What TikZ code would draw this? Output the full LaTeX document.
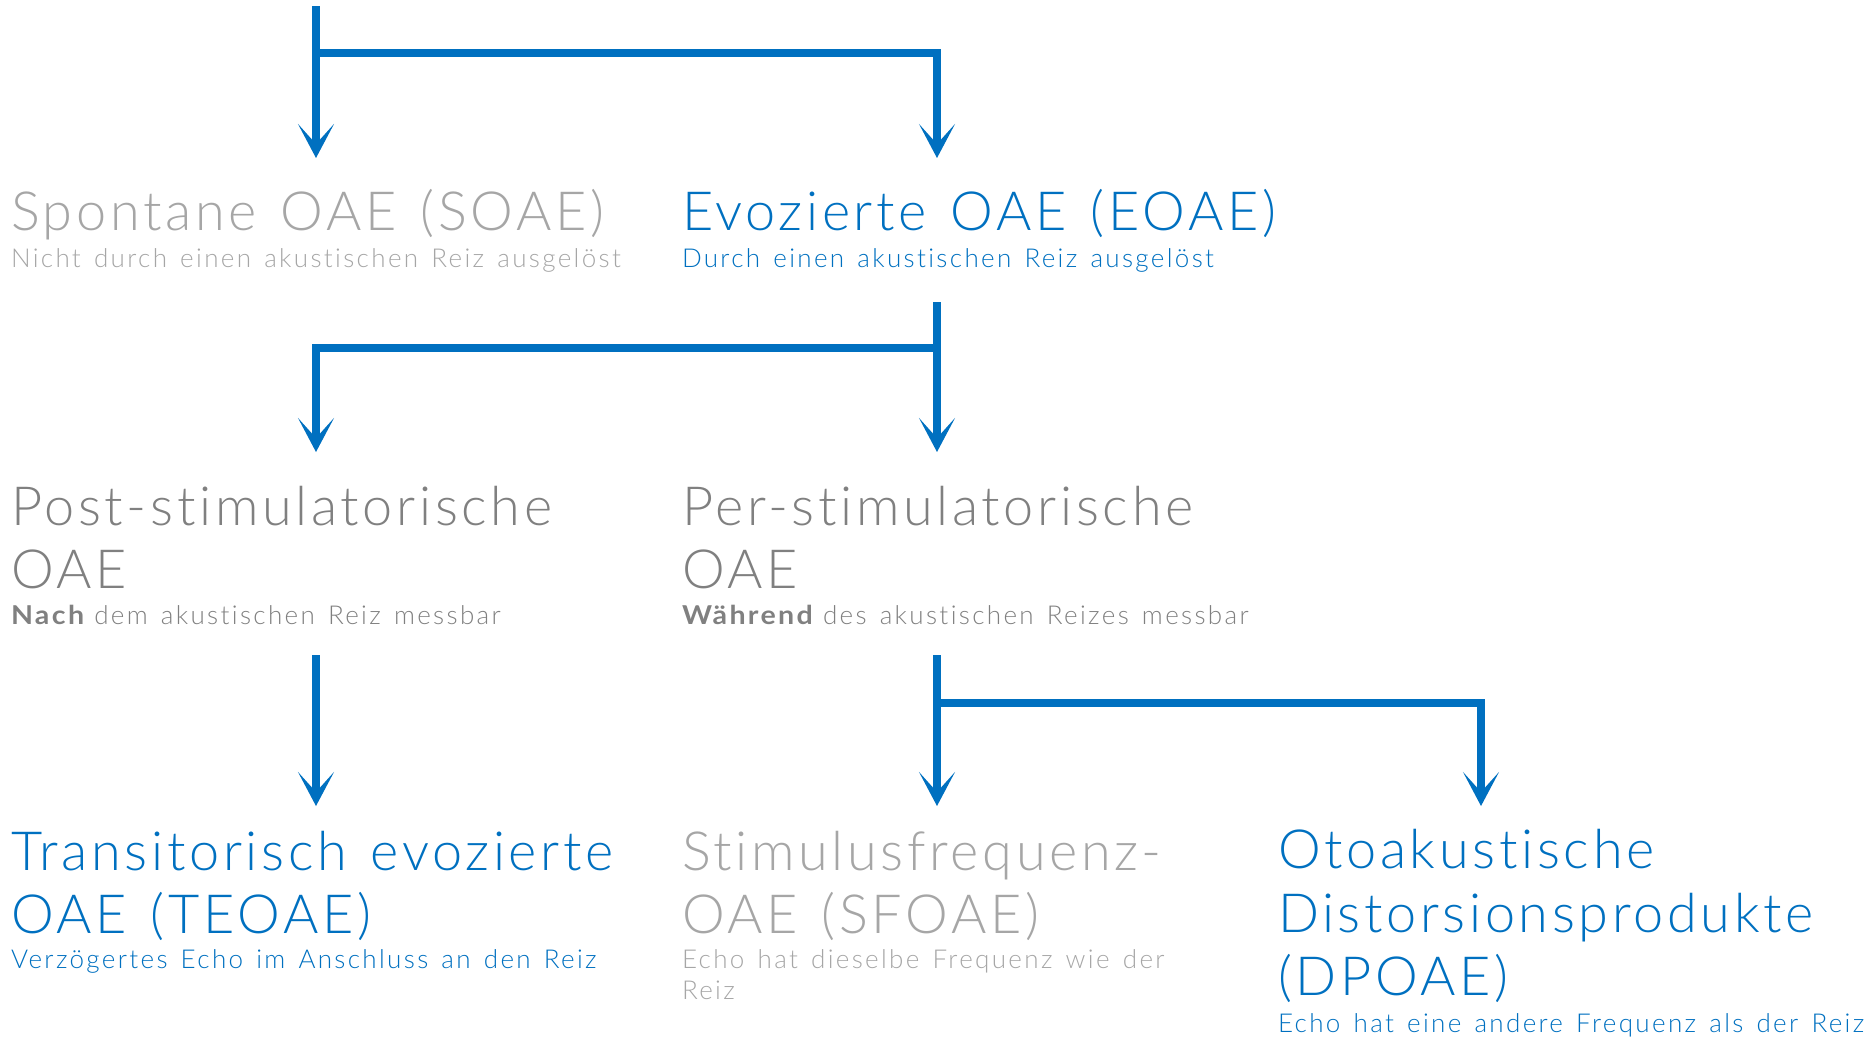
\documentclass[tikz,border=0pt]{standalone}
\usepackage{fontspec}
\setmainfont{Lato}[UprightFont=* Light, BoldFont=* Bold, Ligatures=NoCommon]
\newfontfamily\ttlfont{Lato}[UprightFont=* Light, BoldFont=* Bold, Ligatures=NoCommon, LetterSpace=6.8, WordSpace=1.3]
\newfontfamily\subfont{Lato}[UprightFont=* Light, BoldFont=* Bold, Ligatures=NoCommon, LetterSpace=9, WordSpace=1.4]
\newfontface\subbold{Lato Bold}[Ligatures=NoCommon, LetterSpace=9, FakeStretch=1.1]
\newcommand{\lead}[1]{{\subbold #1}\kern-3pt\relax}
\usetikzlibrary{arrows.meta}
\definecolor{oblue}{HTML}{0070C0}
\definecolor{lgray}{HTML}{A6A6A6}
\definecolor{mgray}{HTML}{808080}
\tikzset{
  conn/.style={draw=oblue, line width=8pt},
  arr/.style={conn, -{Stealth[length=34pt, width=36pt, inset=20pt]}},
  txt/.style={anchor=base west, inner sep=0pt, outer sep=0pt},
  ttl/.style={txt, font=\ttlfont\fontsize{54}{63}\selectfont},
  sub/.style={txt, font=\subfont\fontsize{26}{31}\selectfont},
}
\begin{document}
\begin{tikzpicture}[x=1pt, y=-1pt]
\useasboundingbox (0,0) rectangle (1870,1039);
% row 1
\node[ttl, text=lgray] (soaeT) at (11,230) {Spontane OAE (SOAE)};
\node[sub, text=lgray] (soaeS) at (11,267) {Nicht durch einen akustischen Reiz ausgelöst};
\node[ttl, text=oblue] (eoaeT) at (682,230) {Evozierte OAE (EOAE)};
\node[sub, text=oblue] (eoaeS) at (682,267) {Durch einen akustischen Reiz ausgelöst};
% row 2
\node[ttl, text=mgray] (postT1) at (11,525) {Post-stimulatorische};
\node[ttl, text=mgray] (postT2) at (11,588) {OAE};
\node[sub, text=mgray] (postS) at (11,624) {\lead{Nach} dem akustischen Reiz messbar};
\node[ttl, text=mgray] (perT1) at (682,525) {Per-stimulatorische};
\node[ttl, text=mgray] (perT2) at (682,588) {OAE};
\node[sub, text=mgray] (perS) at (682,624) {\lead{Während} des akustischen Reizes messbar};
% row 3
\node[ttl, text=oblue] (teT1) at (11,870) {Transitorisch evozierte};
\node[ttl, text=oblue] (teT2) at (11,933) {OAE (TEOAE)};
\node[sub, text=oblue] (teS) at (11,968) {Verzögertes Echo im Anschluss an den Reiz};
\node[ttl, text=lgray] (sfT1) at (682,870) {Stimulusfrequenz-};
\node[ttl, text=lgray] (sfT2) at (682,933) {OAE (SFOAE)};
\node[sub, text=lgray] (sfS1) at (682,968) {Echo hat dieselbe Frequenz wie der};
\node[sub, text=lgray] (sfS2) at (682,999) {Reiz};
\node[ttl, text=oblue] (dpT1) at (1278,868) {Otoakustische};
\node[ttl, text=oblue] (dpT2) at (1278,932) {Distorsionsprodukte};
\node[ttl, text=oblue] (dpT3) at (1278,995) {(DPOAE)};
\node[sub, text=oblue] (dpS) at (1278,1032) {Echo hat eine andere Frequenz als der Reiz};
% connector points
\coordinate (top) at (316,6);
\coordinate (j1) at (316,53);
\coordinate (soaeIn) at (316,158);
\coordinate (eoaeIn) at (937,158);
\coordinate (eoaeOut) at (937,302);
\coordinate (j2) at (937,348);
\coordinate (postIn) at (316,452);
\coordinate (perIn) at (937,452);
\coordinate (postOut) at (316,655);
\coordinate (perOut) at (937,655);
\coordinate (j3) at (937,703);
\coordinate (teIn) at (316,806);
\coordinate (sfIn) at (937,806);
\coordinate (dpIn) at (1481,806);
% connectors
\draw[arr] (top) -- (soaeIn);
\draw[arr] (j1) -| (eoaeIn);
\draw[arr] (eoaeOut) -- (perIn);
\draw[arr] (j2) -| (postIn);
\draw[arr] (postOut) -- (teIn);
\draw[arr] (perOut) -- (sfIn);
\draw[arr] (j3) -| (dpIn);
\end{tikzpicture}
\end{document}
